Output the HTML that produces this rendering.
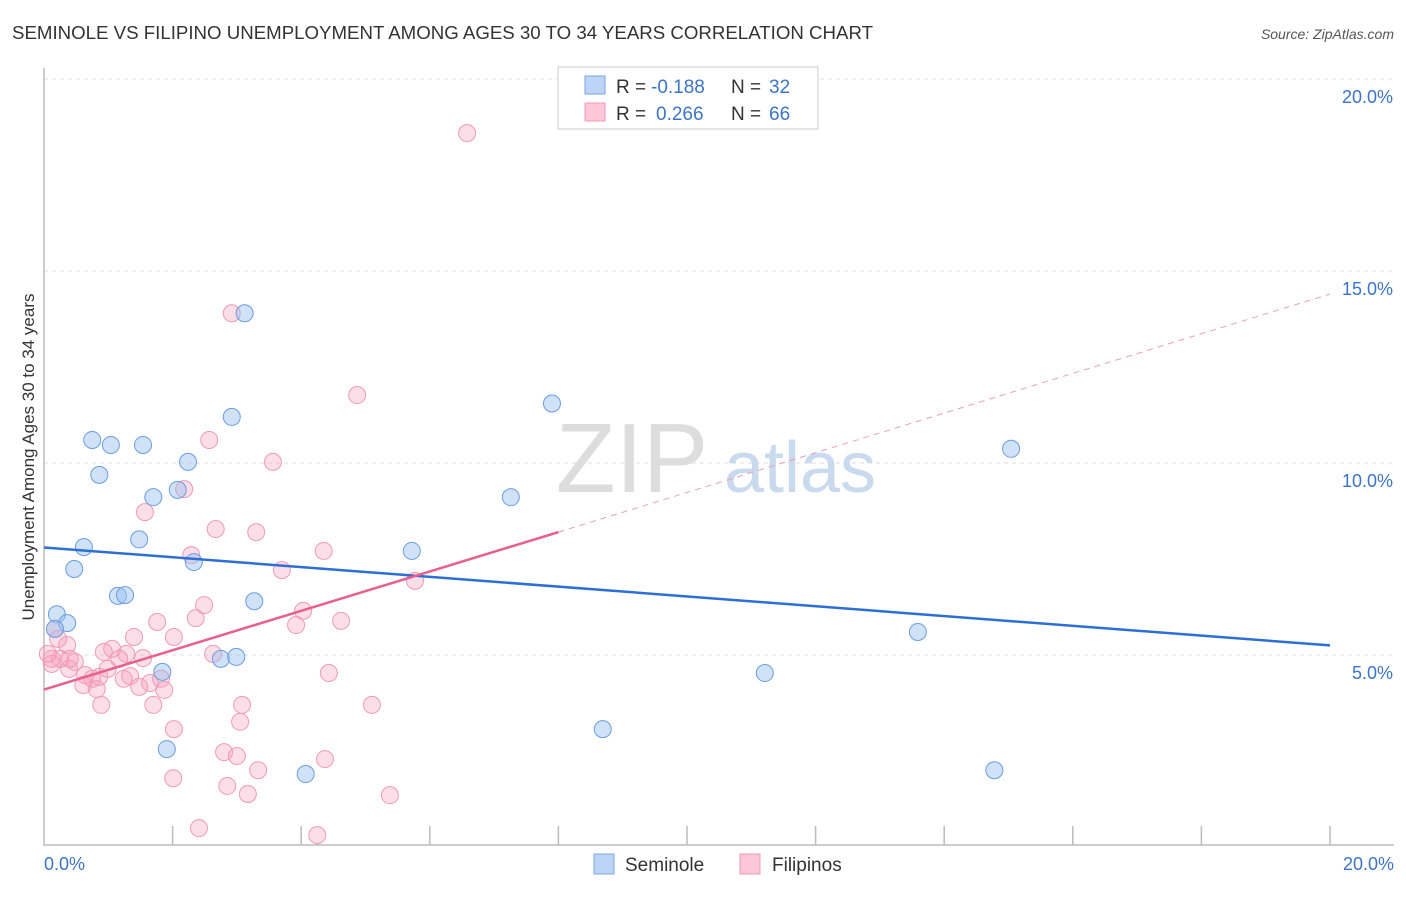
<!DOCTYPE html>
<html><head><meta charset="utf-8"><style>
body{margin:0;background:#fff;font-family:"Liberation Sans",sans-serif;}
svg text{font-family:"Liberation Sans",sans-serif;}
</style></head><body>
<svg width="1406" height="892" xmlns="http://www.w3.org/2000/svg">
<text x="12" y="39" font-size="18.8" fill="#333" textLength="861" lengthAdjust="spacingAndGlyphs">SEMINOLE VS FILIPINO UNEMPLOYMENT AMONG AGES 30 TO 34 YEARS CORRELATION CHART</text>
<text x="1394" y="39" font-size="14" fill="#555" font-style="italic" text-anchor="end">Source: ZipAtlas.com</text>
<g id="grid"></g>
<text x="632" y="492" font-size="98" fill="#ddd" font-family="Liberation Serif" text-anchor="middle">ZIP</text>
<text x="800" y="492" font-size="72" fill="#c9d9ee" text-anchor="middle">atlas</text>
<g id="points"></g>
<g id="trends"></g>
<text transform="translate(34,457) rotate(-90)" font-size="17" fill="#333" text-anchor="middle">Unemployment Among Ages 30 to 34 years</text>
<text x="44" y="870" font-size="18" fill="#3d74c7">0.0%</text>
<text x="1394" y="870" font-size="18" fill="#3d74c7" text-anchor="end">20.0%</text>
<g>
<rect x="558" y="67" width="260" height="62" fill="#fff" stroke="#ccc"/>
<rect x="585" y="76" width="20" height="18" fill="#bcd4f5" stroke="#7aa6e0"/>
<rect x="585" y="103" width="20" height="18" fill="#fcc8d8" stroke="#f098b6"/>
<text x="616" y="93" font-size="19" fill="#333">R =</text>
<text x="651" y="93" font-size="19" fill="#3d74c7">-0.188</text>
<text x="731" y="93" font-size="19" fill="#333">N =</text>
<text x="769" y="93" font-size="19" fill="#3d74c7">32</text>
<text x="616" y="120" font-size="19" fill="#333">R =</text>
<text x="656" y="120" font-size="19" fill="#3d74c7">0.266</text>
<text x="731" y="120" font-size="19" fill="#333">N =</text>
<text x="769" y="120" font-size="19" fill="#3d74c7">66</text>
</g>
<g>
<rect x="594" y="854" width="20" height="20" fill="#bcd4f5" stroke="#7aa6e0"/>
<text x="625" y="871" font-size="19" fill="#333">Seminole</text>
<rect x="740" y="854" width="20" height="20" fill="#fcc8d8" stroke="#f098b6"/>
<text x="772" y="871" font-size="19" fill="#333">Filipinos</text>
</g>
</svg>
<script>
const yTicks=[5,10,15,20];
const yTickLabels=["5.0%","10.0%","15.0%","20.0%"];
const seminoleX=[3.12,2.92,7.9,0.75,1.04,1.54,2.24,0.86,1.7,2.08,7.26,15.04,1.48,0.62,0.47,2.33,5.72,1.15,1.26,3.27,0.2,0.36,0.17,13.59,2.75,2.99,1.84,11.21,8.69,1.91,4.07,14.78];
const seminoleY=[13.9,11.2,11.55,10.6,10.47,10.47,10.03,9.69,9.11,9.3,9.11,10.37,8.01,7.81,7.24,7.42,7.71,6.54,6.56,6.4,6.06,5.83,5.68,5.6,4.9,4.95,4.56,4.53,3.07,2.55,1.9,2.0];
const filipinoX=[6.58,2.92,4.87,2.57,3.56,2.18,1.57,2.67,3.3,2.29,4.35,3.7,5.77,4.03,2.49,1.76,2.36,4.62,3.92,2.02,1.4,0.17,0.36,1.06,1.28,0.93,1.54,2.63,0.48,0.25,0.12,1.17,0.39,0.64,0.99,0.86,0.75,0.61,0.82,1.24,1.34,1.65,1.82,1.48,1.87,0.89,1.7,3.08,4.43,5.1,2.02,3.05,2.01,2.8,3.0,2.85,3.33,4.37,3.17,5.38,2.41,4.25,0.12,0.06,0.22,0.4];
const filipinoY=[18.59,13.9,11.77,10.6,10.03,9.32,8.72,8.28,8.2,7.6,7.71,7.21,6.93,6.15,6.3,5.86,5.96,5.89,5.78,5.47,5.47,5.68,5.26,5.16,5.03,5.08,4.92,5.03,4.82,4.9,4.77,4.9,4.64,4.48,4.64,4.43,4.38,4.22,4.11,4.38,4.45,4.27,4.38,4.17,4.09,3.7,3.7,3.7,4.53,3.7,3.07,3.26,1.79,2.47,2.37,1.59,2.0,2.29,1.38,1.35,0.49,0.31,4.9,5.03,5.42,4.9];
const semTrend=[7.8,5.25];
const filTrend=[4.1,8.2,14.4];
const X0=44,X1=1330,Y0=847,PXY=38.4;
const sx=v=>X0+v/20*(X1-X0);
const sy=v=>Y0-v*PXY;
const NS="http://www.w3.org/2000/svg";
function mk(t,a,p){const e=document.createElementNS(NS,t);for(const k in a)e.setAttribute(k,a[k]);p.appendChild(e);return e;}
const grid=document.getElementById('grid');
yTicks.forEach((t,i)=>{
 const l=mk('line',{x1:44,x2:1394,y1:sy(t),y2:sy(t),stroke:'#ddd','stroke-dasharray':'4,4'},grid);
 
 
 const tx=mk('text',{x:1393,y:sy(t)+24,'font-size':18,fill:'#3d74c7','text-anchor':'end'},grid);
 tx.textContent=yTickLabels[i];
 
 
});
const ax=mk('path',{d:'M44 68 V845 H1394',fill:'none',stroke:'#bbb','stroke-width':1.5},grid);


for(let i=1;i<=10;i++){const x=sx(i*2);const t=mk('line',{x1:x,x2:x,y1:826,y2:845,stroke:'#bbb','stroke-width':1.5},grid);
 
 }
const pts=document.getElementById('points');
filipinoX.forEach((v,i)=>{const c=mk('circle',{cx:sx(v),cy:sy(filipinoY[i]),r:8.5,fill:'rgba(247,160,190,0.35)',stroke:'#f09ab8','stroke-width':1},pts);
 
 });
seminoleX.forEach((v,i)=>{const c=mk('circle',{cx:sx(v),cy:sy(seminoleY[i]),r:8.5,fill:'rgba(150,190,240,0.45)',stroke:'#6a9de0','stroke-width':1},pts);
 
 });
const tr=document.getElementById('trends');
let l=mk('line',{x1:sx(0),y1:sy(semTrend[0]),x2:sx(20),y2:sy(semTrend[1]),stroke:'#2d6fd4','stroke-width':2.5},tr);


l=mk('line',{x1:sx(0),y1:sy(filTrend[0]),x2:sx(8),y2:sy(filTrend[1]),stroke:'#e8608e','stroke-width':2.5},tr);


l=mk('line',{x1:sx(8),y1:sy(filTrend[1]),x2:sx(20),y2:sy(filTrend[2]),stroke:'#e8a0b8','stroke-width':1,'stroke-dasharray':'6,5'},tr);


</script>
</body></html>
